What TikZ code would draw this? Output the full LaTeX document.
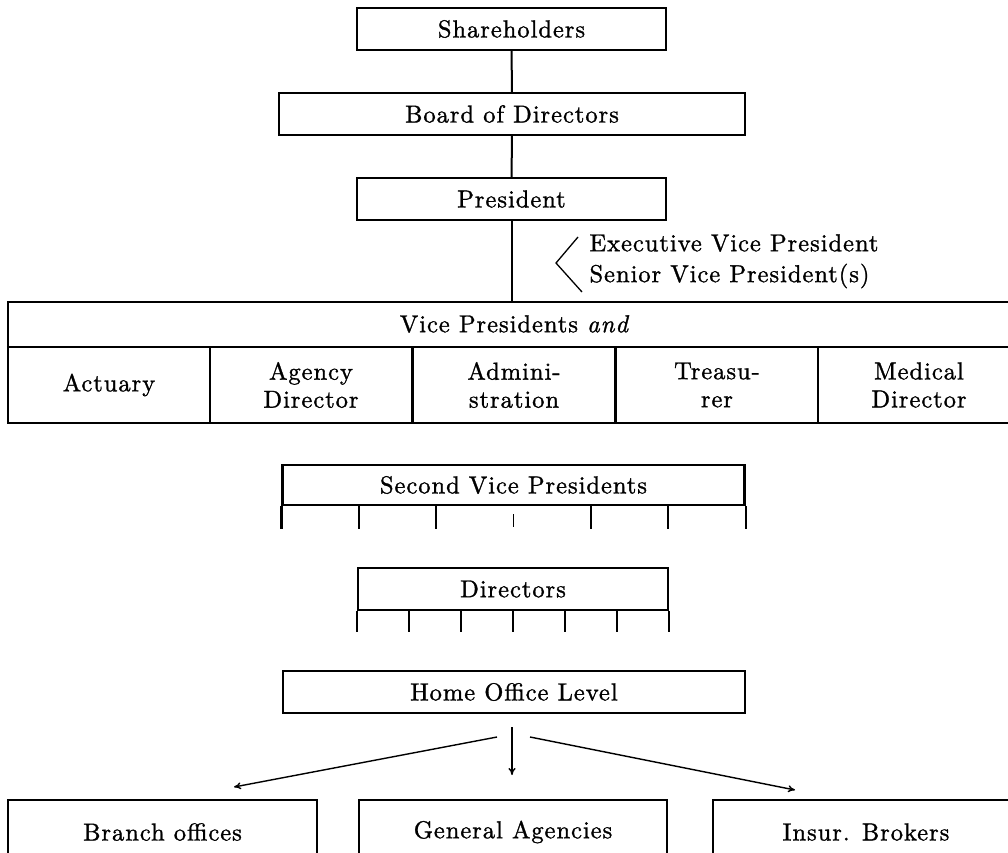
\documentclass[tikz,border=0pt]{standalone}
\usepackage{fontspec}
\setmainfont{lmroman10-regular.otf}[ItalicFont=lmroman10-italic.otf, LetterSpace=4, FakeBold=1.2]
\usetikzlibrary{calc,arrows.meta}
\begin{document}
\begin{tikzpicture}[x=1pt,y=-1pt,
  txt/.style={font=\fontsize{24.5}{28}\selectfont},
  box/.style={draw, line width=2.2pt, inner sep=0pt, txt},
  cell/.style={inner sep=0pt, txt, align=center, minimum width=202pt, minimum height=76pt},
  link/.style={line width=2pt},
  tick/.style={line width=2.2pt},
  flow/.style={line width=1.4pt, -{To[length=7pt,width=7pt]}}
]
\useasboundingbox (0,0) rectangle (1008,852);

% top of the hierarchy
\node[box, minimum width=309pt, minimum height=42pt] (share) at (511.5,29) {Shareholders};
\node[box, minimum width=466pt, minimum height=42pt] (board) at (512,114) {Board of Directors};
\node[box, minimum width=309pt, minimum height=42pt] (pres) at (511.5,199) {President};
\draw[link] (share) -- (board);
\draw[link] (board) -- (pres);

% vice presidents block
\node[box, minimum width=1004pt, minimum height=121pt] (vp) at (510,362.5) {};
\node[txt] (vphead) at (515,324) {Vice Presidents \textit{and}};
\draw[line width=2.2pt] (vp.west |- 0,347) coordinate (divL) -- (vp.east |- 0,347) coordinate (divR);
\node[cell] (c1) at (109,385) {Actuary};
\node[cell] (c2) at (311,385) {Agency\\Director};
\node[cell] (c3) at (514,385) {Admini-\\stration};
\node[cell] (c4) at (717,385) {Treasu-\\rer};
\node[cell] (c5) at (919,385) {Medical\\Director};
\foreach \a/\b in {c1/c2,c2/c3,c3/c4,c4/c5}
  \draw[tick] ($(\a.north east)!0.5!(\b.north west)$) -- ($(\a.south east)!0.5!(\b.south west)$);
\draw[link] (pres.south) -- (pres.south |- vp.north);

% executive / senior vice presidents note
\node[txt, anchor=west] (evp) at (586,243) {Executive Vice President};
\node[txt, anchor=west] (svpn) at (586,276) {Senior Vice President(s)};
\coordinate (apex) at (556,263);
\draw[line width=1.3pt] (578,237) -- (apex) -- (582,292);

% second vice presidents
\node[box, minimum width=462pt, minimum height=40pt] (svp) at (513.5,485) {Second Vice Presidents};
\foreach \k in {0,1,2,4,5,6}
  \draw[tick] ($(svp.south west)!\k/6!(svp.south east)$) -- ++(0,23);
\draw[line width=1.6pt] ($(svp.south west)!0.5!(svp.south east)$) ++(0,8) -- ++(0,13);

% directors
\node[box, minimum width=310pt, minimum height=42pt] (dir) at (513,589) {Directors};
\foreach \k in {0,...,6}
  \draw[tick] ($(dir.south west)!\k/6!(dir.south east)$) -- ++(0,21);

% home office and field organisation
\node[box, minimum width=462pt, minimum height=42pt] (home) at (514,692) {Home Office Level};
\node[box, minimum width=309pt, minimum height=64pt] (branch) at (162.5,832) {Branch offices};
\node[box, minimum width=308pt, minimum height=64pt] (gen) at (513,832) {General Agencies};
\node[box, minimum width=306pt, minimum height=64pt] (brok) at (866,832) {Insur. Brokers};

\coordinate (fromL) at (497,737);
\coordinate (fromC) at (512,727);
\coordinate (fromR) at (530,737);
\coordinate (toL) at (234,787);
\coordinate (toC) at (512,775);
\coordinate (toR) at (795,790);
\draw[flow] (fromL) -- (toL);
\draw[flow] (fromC) -- (toC);
\draw[flow] (fromR) -- (toR);
\end{tikzpicture}
\end{document}
